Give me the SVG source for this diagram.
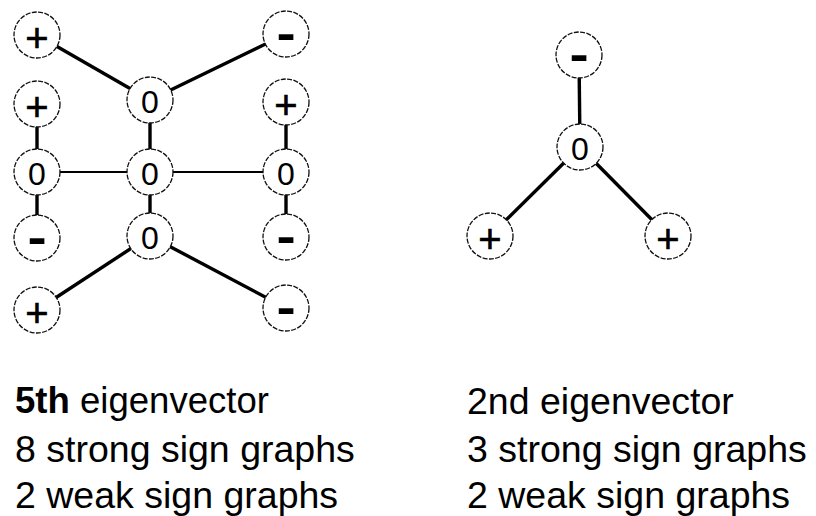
<svg xmlns="http://www.w3.org/2000/svg" width="816" height="516" viewBox="0 0 816 516">
<style>
.bg{fill:#fff}
.e{stroke:#000;stroke-width:3.4;stroke-linecap:butt;fill:none}
.thin{stroke-width:1.8}
.c{fill:#fff;stroke:#111;stroke-width:1.3;stroke-dasharray:5 1.4}
.s{font-family:"Liberation Sans",Arial,sans-serif;fill:#000;text-anchor:middle}
.p{font-size:40px;stroke:#000;stroke-width:0.6}
.m{font-size:48px;font-weight:bold}
.z{font-size:32px}
.t{font-family:"Liberation Sans",Arial,sans-serif;font-size:37.5px;fill:#000}
</style>
<rect class="bg" x="0" y="0" width="816" height="516"/>
<g id="connectors">
<line class="e" x1="37" y1="35" x2="150" y2="100"/>
<line class="e" x1="150" y1="100" x2="286" y2="34"/>
<line class="e" x1="37" y1="104" x2="37" y2="172"/>
<line class="e" x1="37" y1="172" x2="37" y2="238"/>
<line class="e" x1="286" y1="102" x2="286" y2="172"/>
<line class="e" x1="286" y1="172" x2="286" y2="237"/>
<line class="e" x1="150" y1="100" x2="150" y2="172"/>
<line class="e" x1="150" y1="172" x2="150" y2="236"/>
<line class="e thin" x1="37" y1="172" x2="150" y2="172"/>
<line class="e thin" x1="150" y1="172" x2="286" y2="172"/>
<line class="e" x1="150" y1="236" x2="37" y2="310"/>
<line class="e" x1="150" y1="236" x2="286" y2="308"/>
<line class="e" x1="579" y1="55" x2="580" y2="147"/>
<line class="e" x1="580" y1="147" x2="490" y2="236"/>
<line class="e" x1="580" y1="147" x2="668" y2="236"/>
</g>
<g id="n1"><circle class="c" cx="37" cy="35" r="23"/><text class="s p" x="37" y="52">+</text></g>
<g id="n2"><circle class="c" cx="286" cy="34" r="23"/><text class="s m" transform="translate(286,49.5) scale(1.2,1)" x="0" y="0">-</text></g>
<g id="n3"><circle class="c" cx="150" cy="100" r="23"/><text class="s z" x="150" y="113">0</text></g>
<g id="n4"><circle class="c" cx="37" cy="104" r="23"/><text class="s p" x="37" y="121">+</text></g>
<g id="n5"><circle class="c" cx="286" cy="102" r="23"/><text class="s p" x="286" y="119">+</text></g>
<g id="n6"><circle class="c" cx="37" cy="172" r="23"/><text class="s z" x="37" y="185">0</text></g>
<g id="n7"><circle class="c" cx="150" cy="172" r="23"/><text class="s z" x="150" y="185">0</text></g>
<g id="n8"><circle class="c" cx="286" cy="172" r="23"/><text class="s z" x="286" y="185">0</text></g>
<g id="n9"><circle class="c" cx="37" cy="238" r="23"/><text class="s m" transform="translate(37,253.5) scale(1.2,1)" x="0" y="0">-</text></g>
<g id="n10"><circle class="c" cx="150" cy="236" r="23"/><text class="s z" x="150" y="249">0</text></g>
<g id="n11"><circle class="c" cx="286" cy="237" r="23"/><text class="s m" transform="translate(286,252.5) scale(1.2,1)" x="0" y="0">-</text></g>
<g id="n12"><circle class="c" cx="37" cy="310" r="23"/><text class="s p" x="37" y="327">+</text></g>
<g id="n13"><circle class="c" cx="286" cy="308" r="23"/><text class="s m" transform="translate(286,323.5) scale(1.2,1)" x="0" y="0">-</text></g>
<g id="r1"><circle class="c" cx="579" cy="55" r="23"/><text class="s m" transform="translate(579,70.5) scale(1.2,1)" x="0" y="0">-</text></g>
<g id="r2"><circle class="c" cx="580" cy="147" r="23"/><text class="s z" x="580" y="160">0</text></g>
<g id="r3"><circle class="c" cx="490" cy="236" r="23"/><text class="s p" x="490" y="253">+</text></g>
<g id="r4"><circle class="c" cx="668" cy="236" r="23"/><text class="s p" x="668" y="253">+</text></g>
<g id="labels">
<text class="t" x="15" y="413" textLength="254" lengthAdjust="spacingAndGlyphs"><tspan font-weight="bold">5th</tspan> eigenvector</text>
<text class="t" x="15" y="462">8 strong sign graphs</text>
<text class="t" x="15" y="508">2 weak sign graphs</text>
<text class="t" x="467" y="414">2nd eigenvector</text>
<text class="t" x="467" y="462">3 strong sign graphs</text>
<text class="t" x="467" y="508">2 weak sign graphs</text>
</g>
</svg>
